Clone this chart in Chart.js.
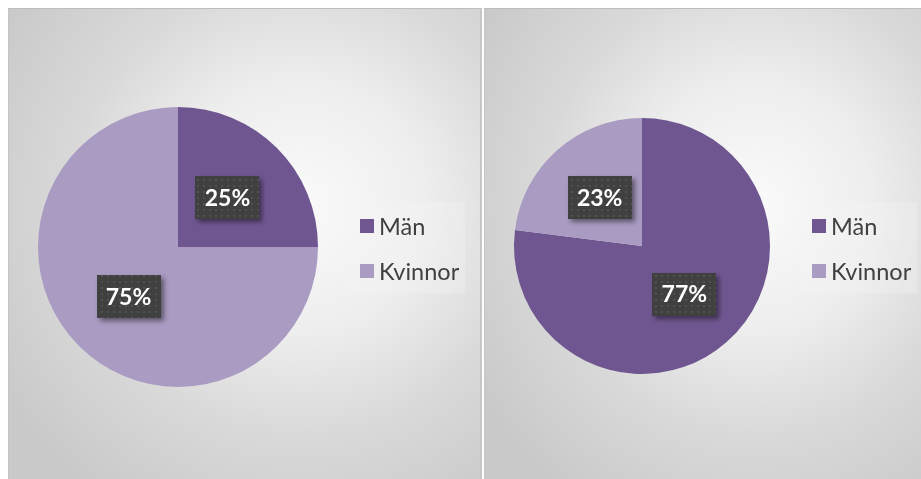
<!DOCTYPE html>
<html>
<head>
<meta charset="utf-8">
<script src="https://cdn.jsdelivr.net/npm/chart.js@4.4.1/dist/chart.umd.min.js"></script>
<style>
  html,body{margin:0;padding:0;background:#ffffff;width:921px;height:479px;overflow:hidden;}
  .panel{position:absolute;box-sizing:border-box;border-top:1px solid #bdbdbd;border-left:1px solid #c4c4c4;
    background:radial-gradient(ellipse 75% 75% at 62% 42%, #fafafa 0%, #eeeeee 35%, #d9d9d9 65%, #c9c9c9 100%);}
  #p1{left:8px;top:8px;width:474px;height:471px;border-right:2px solid #c6c6c6;}
  #p2{left:484px;top:8px;width:437px;height:471px;}
  canvas{position:absolute;left:0;top:0;}
</style>
</head>
<body>
<div class="panel" id="p1"><canvas id="c1" width="471" height="470"></canvas></div>
<div class="panel" id="p2"><canvas id="c2" width="436" height="470"></canvas></div>
<script>
const categories = ['Män', 'Kvinnor'];
const leftValues = [25, 75];
const rightValues = [77, 23];
const colors = ['#6f5690', '#a99bc1'];

function makePattern(ctx) {
  const pc = document.createElement('canvas');
  pc.width = 6; pc.height = 6;
  const p = pc.getContext('2d');
  p.fillStyle = '#404040'; p.fillRect(0, 0, 6, 6);
  p.fillStyle = '#515151'; p.fillRect(2, 2, 2, 2);
  return ctx.createPattern(pc, 'repeat');
}

function labelPlugin(legendX, legendBox) {
  return {
    id: 'customLabels',
    afterDraw(chart) {
      const ctx = chart.ctx;
      const meta = chart.getDatasetMeta(0);
      const data = chart.data.datasets[0].data;
      const total = data.reduce((a, b) => a + b, 0);
      const pattern = makePattern(ctx);
      meta.data.forEach((arc, i) => {
        const p = arc.getProps(['x', 'y', 'startAngle', 'endAngle', 'outerRadius'], true);
        const mid = (p.startAngle + p.endAngle) / 2;
        const cx = p.x + Math.cos(mid) * p.outerRadius * 0.5;
        const cy = p.y + Math.sin(mid) * p.outerRadius * 0.5;
        const w = 64, h = 43;
        ctx.save();
        ctx.shadowColor = 'rgba(0,0,0,0.45)';
        ctx.shadowBlur = 5;
        ctx.shadowOffsetX = 3;
        ctx.shadowOffsetY = 3;
        ctx.fillStyle = pattern;
        ctx.fillRect(Math.round(cx - w / 2), Math.round(cy - h / 2), w, h);
        ctx.restore();
        ctx.save();
        ctx.fillStyle = '#ffffff';
        ctx.font = 'bold 23px Lato';
        ctx.textAlign = 'center';
        ctx.textBaseline = 'middle';
        ctx.fillText(Math.round(data[i] / total * 100) + '%', cx, cy + 1);
        ctx.restore();
      });
      // legend
      ctx.save();
      ctx.fillStyle = 'rgba(245,245,245,0.3)';
      ctx.fillRect(legendBox[0], legendBox[1], legendBox[2], legendBox[3]);
      chart.data.labels.forEach((lab, i) => {
        const y = 217 + i * 45;
        ctx.fillStyle = colors[i];
        ctx.fillRect(legendX, y - 7, 14, 14);
        ctx.fillStyle = '#404040';
        ctx.font = '23.5px Lato';
        ctx.textAlign = 'left';
        ctx.textBaseline = 'middle';
        ctx.fillText(lab, legendX + 19, y + 1);
      });
      ctx.restore();
    }
  };
}

function makeChart(id, values, padding, legendX, legendBox) {
  return new Chart(document.getElementById(id), {
    type: 'pie',
    data: {
      labels: categories,
      datasets: [{ data: values, backgroundColor: colors, borderWidth: 0 }]
    },
    options: {
      responsive: false,
      animation: false,
      layout: { padding: padding },
      plugins: { legend: { display: false }, tooltip: { enabled: false } }
    },
    plugins: [labelPlugin(legendX, legendBox)]
  });
}

makeChart('c1', leftValues, { left: 29, right: 162, top: 98, bottom: 92 }, 351, [338, 193, 118, 91]);
makeChart('c2', rightValues, { left: 29, right: 151, top: 109, bottom: 105 }, 327, [314, 193, 118, 91]);
</script>
</body>
</html>
